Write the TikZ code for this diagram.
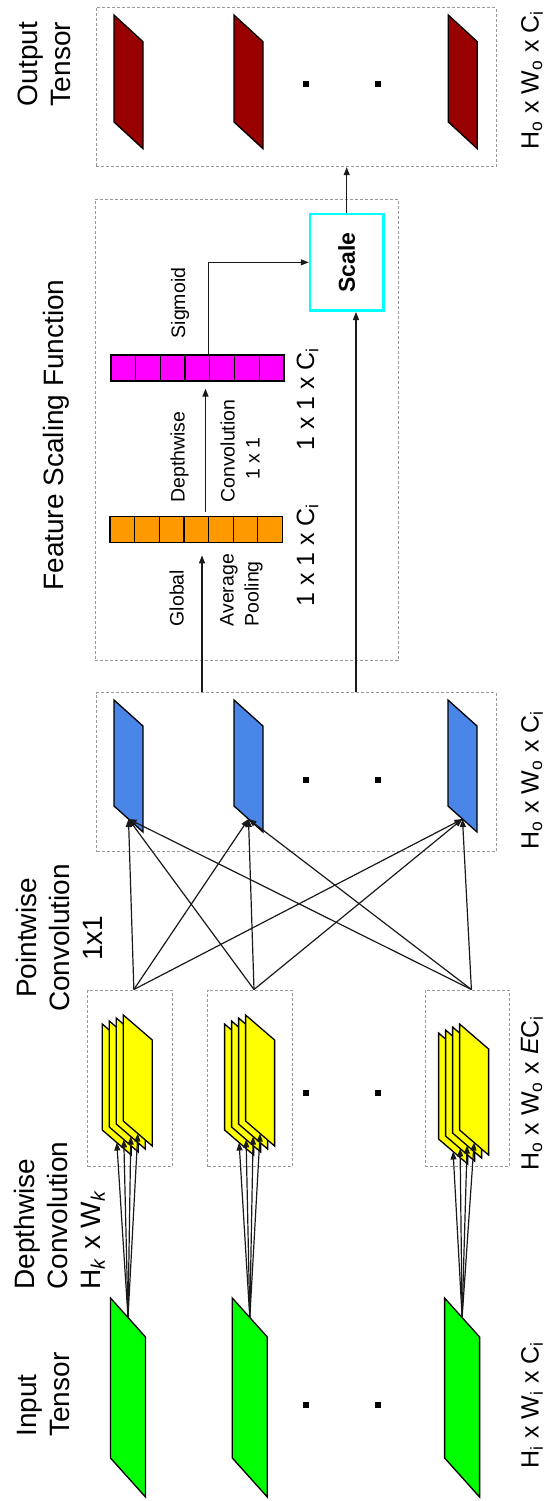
\documentclass[tikz,border=0pt]{standalone}
\usepackage{fontspec}
\usepackage{graphicx}
\setmainfont{Liberation Sans}
\usetikzlibrary{arrows.meta,fit}

\definecolor{ingreen}{HTML}{00FF00}
\definecolor{dwyellow}{HTML}{FFFF00}
\definecolor{pwblue}{HTML}{4A86E8}
\definecolor{outred}{HTML}{990000}
\definecolor{poolorange}{HTML}{FF9900}
\definecolor{sigmagenta}{HTML}{FF00FF}
\definecolor{scalecyan}{HTML}{00FFFF}

\tikzset{
  fmap/.style={draw=black, line width=0.65pt, line join=miter},
  pics/tensor/.style n args={4}{code={
    \draw[fmap, fill=#1] (0,0) -- (#2,#3) -- (#2,#3+#4) -- (0,#4) -- cycle;
    \coordinate (-top) at (#2/2,#3/2);
    \coordinate (-bot) at (#2/2,#4+#3/2);
  }},
  group/.style={draw=gray!80, line width=0.5pt, dash pattern=on 1.5pt off 1pt, inner sep=0pt},
  conn/.style={draw=black!90, line width=0.6pt, -{Triangle[length=4pt,width=3pt]}},
  cell/.style={draw=black, line width=0.65pt, minimum width=12.32pt, minimum height=13pt, inner sep=0pt},
  dot/.style={fill=black, minimum size=2.6pt, inner sep=0pt},
  head/.style={rotate=90, inner sep=0pt, font=\fontsize{14}{16.5}\selectfont},
  note/.style={rotate=90, inner sep=0pt, align=left, font=\fontsize{9.75}{12.5}\selectfont},
  dims/.style={rotate=90, inner sep=0pt, font=\fontsize{12.5}{15}\selectfont},
  scalebox/.style={draw=scalecyan, line width=1.3pt, fill=white, inner sep=0pt,
    minimum width=36.65pt, minimum height=48.35pt, font=\fontsize{11.5}{13}\selectfont\bfseries},
}

\begin{document}
\begin{tikzpicture}[x=0.5pt,y=-0.5pt]
\useasboundingbox (0,0) rectangle (549,1501);

% groups
\node[group, fit={(96,7.3) (496,166.7)}] (outbox) {};
\node[group, fit={(95,199) (398,660.7)}] (fsbox) {};
\node[group, fit={(96.7,692.7) (496,851.7)}] (pwbox) {};
\node[group, fit={(87.7,990) (172,1166.5)}] (dwgrp1) {};
\node[group, fit={(207.7,990) (292.3,1166.5)}] (dwgrp2) {};
\node[group, fit={(425.3,990) (509.5,1166.5)}] (dwgrp3) {};

% tensors
\foreach \k/\x in {1/110.5,2/232.3,3/444.6}
  \pic (in\k) at (\x,1298) {tensor={ingreen}{35}{39}{160}};

\foreach \k/\x/\y in {1/123.3/1015,2/245.6/1015,3/459.6/1024}
  \foreach \i in {0,...,3}
    \pic (dws\k\i) at ({\x-7*(3-\i)},{\y+3*(3-\i)}) {tensor={dwyellow}{29}{25}{106}};

\foreach \k/\x in {1/114,2/234,3/448}
  \pic (pw\k) at (\x,700) {tensor={pwblue}{29}{26}{106}};

\foreach \k/\x in {1/114,2/234,3/448.3}
  \pic (out\k) at (\x,15) {tensor={outred}{29}{26.7}{107}};

\foreach \y [count=\n] in {84,780,1093,1405} {
  \node[dot] (dota\n) at (306,\y) {};
  \node[dot] (dotb\n) at (378,\y) {};
}

% depthwise and pointwise
\foreach \k in {1,2,3}
  \foreach \i in {0,...,3}
    \draw[conn] (in\k-top) -- (dws\k\i-bot);

\foreach \k in {1,2,3}
  \foreach \j in {1,2,3}
    \draw[conn] ([xshift=2pt]dwgrp\k.north) -- (pw\j-bot);

% feature scaling
\foreach \i in {1,...,7} {
  \node[cell, fill=poolorange] (pool\i) at ({110+24.64*(\i-0.5)},529.65) {};
  \node[cell, fill=sigmagenta] (sig\i) at ({111+24.7*(\i-0.5)},368) {};
}
\node[scalebox] (scale) at (346.7,262.35) {\rotatebox{90}{Scale}};

\coordinate (gapx) at (202,0);
\coordinate (dwcx) at (205.5,0);
\coordinate (sigx) at (208.5,0);
\coordinate (scx) at (356,0);
\draw[conn, shorten >=6pt] (gapx |- pwbox.north) -- (gapx |- pool4.south);
\draw[conn, shorten <=2pt, shorten >=3.5pt] (dwcx |- pool4.north) -- (dwcx |- sig4.south);
\draw[conn] (sigx |- sig4.north) |- (scale.west);
\draw[conn] (scx |- pwbox.north) -- (scx |- scale.south);
\draw[conn] (scale.north) -- (scale.north |- outbox.south);

% labels
\node[head, align=left, anchor=west] (inlbl) at (44,1437) {Input\\Tensor};
\node[head, align=left, anchor=west] (dwlbl) at (59.5,1290) {Depthwise\\Convolution\\H\textsubscript{\textit{k}} x W\textsubscript{\textit{k}}};
\node[head, align=center] (pwlbl) at (59.5,938) {Pointwise\\Convolution\\1x1};
\node[head] (fslbl) at (56,435) {Feature Scaling Function};
\node[head, align=center] (outlbl) at (44,64) {Output\\Tensor};

\node[note, anchor=west] (gaplbl) at (216,626.7) {Global\\[12.5pt]Average\\Pooling};
\node[note, anchor=west] (dwclbl) at (215,503) {Depthwise\\[12.5pt]Convolution\\\hspace*{11.5pt}1 x 1};
\node[note] (siglbl) at (180,303) {Sigmoid};
\node[dims] (pooldim) at (307.5,555) {1 x 1 x C\textsubscript{i}};
\node[dims] (sigdim) at (307.5,399) {1 x 1 x C\textsubscript{i}};

\node[dims] (indim) at (532,1405) {H\textsubscript{i} x W\textsubscript{i} x C\textsubscript{i}};
\node[dims] (dwdim) at (532,1093) {H\textsubscript{o} x W\textsubscript{o} x \textit{E}C\textsubscript{i}};
\node[dims] (pwdim) at (532,780) {H\textsubscript{o} x W\textsubscript{o} x C\textsubscript{i}};
\node[dims] (outdim) at (532,80) {H\textsubscript{o} x W\textsubscript{o} x C\textsubscript{i}};

\end{tikzpicture}
\end{document}
